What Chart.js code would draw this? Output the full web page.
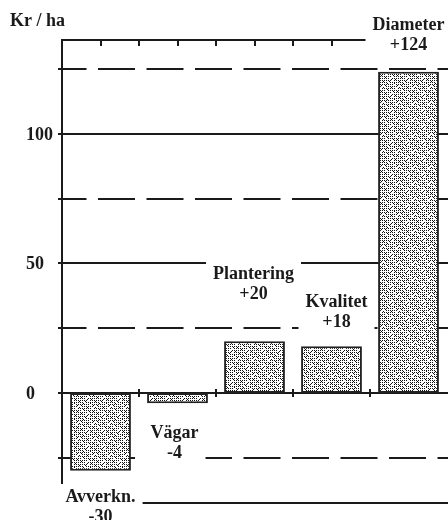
<!DOCTYPE html>
<html><head><meta charset="utf-8">
<style>html,body{margin:0;padding:0;background:#fff;}#wrap{width:448px;height:520px;}</style>
<script src="https://cdn.jsdelivr.net/npm/chart.js@4"></script>
</head><body><div id="wrap"><canvas id="c" width="448" height="520"></canvas></div>
<script>
const categories = ["Avverkn.", "Vägar", "Plantering", "Kvalitet", "Diameter"];
const values = [-30, -4, 20, 18, 124];
const valueLabels = ["-30", "-4", "+20", "+18", "+124"];
const yTickValues = [100, 50, 0];
const yTickLabels = ["100", "50", "0"];
const solidGridValues = [100, 50];
const dashedGridValues = [125, 75, 25, -25];
const axisTickValues = [125, 100, 75, 50, 25, 0, -25];
const axisTitle = "Kr / ha";
const yMin = -42.5, yMax = 136.3;

// style: label baseline offset from bar end (px) and horizontal nudge (px)
const labelDy = [31, 35, -62, -39, -42];
const labelDx = [0, -3, -1, 5, 0];

const FONT = "bold 18px 'Liberation Serif', 'Times New Roman', serif";
const INK = '#1a1a1a';

function makeStipple(ctx){
  const rows = [
    "1010101000101010",
    "0000010000000001",
    "1010001010101010",
    "0001000000100000",
    "1010101010001010",
    "0100000000000100",
    "0010101010101000",
    "0000000100000001",
    "1010101010100010",
    "0001000000000000",
    "1000101010101010",
    "0000000001000100",
    "1010101000101010",
    "0100000000000000",
    "1010100010101010",
    "0000000100010000"
  ];
  const c = document.createElement('canvas'); c.width = 16; c.height = 16;
  const g = c.getContext('2d');
  g.fillStyle = '#fff'; g.fillRect(0,0,16,16); g.fillStyle = '#111';
  rows.forEach((r,y)=>{[...r].forEach((ch,x)=>{ if(ch==='1') g.fillRect(x,y,1,1); });});
  return ctx.createPattern(c,'repeat');
}

const canvas = document.getElementById('c');
const ctx0 = canvas.getContext('2d');
const stipple = makeStipple(ctx0);

const framePlugin = {
  id: 'frame',
  beforeDatasetsDraw(chart){
    const {ctx, chartArea:a, scales:{x, y}} = chart;
    ctx.save();
    ctx.strokeStyle = INK; ctx.lineWidth = 2;
    const L = a.left, R = chart.width;
    solidGridValues.forEach(v=>{
      const py = Math.round(y.getPixelForValue(v));
      ctx.beginPath(); ctx.moveTo(L, py); ctx.lineTo(R, py); ctx.stroke();
    });
    ctx.setLineDash([37, 11.5]);
    ctx.lineDashOffset = 12.5;
    dashedGridValues.forEach(v=>{
      const py = Math.round(y.getPixelForValue(v));
      ctx.beginPath(); ctx.moveTo(L, py); ctx.lineTo(R, py); ctx.stroke();
    });
    ctx.setLineDash([]);
    const y0 = Math.round(y.getPixelForValue(0));
    ctx.beginPath(); ctx.moveTo(L, y0); ctx.lineTo(R, y0); ctx.stroke();
    ctx.beginPath(); ctx.moveTo(L, a.top); ctx.lineTo(R, a.top); ctx.stroke();
    ctx.beginPath(); ctx.moveTo(L, a.bottom); ctx.lineTo(R, a.bottom); ctx.stroke();
    ctx.beginPath(); ctx.moveTo(L, a.top - 1); ctx.lineTo(L, a.bottom); ctx.stroke();
    axisTickValues.forEach(v=>{
      const py = Math.round(y.getPixelForValue(v));
      ctx.beginPath(); ctx.moveTo(L - 4, py); ctx.lineTo(L, py); ctx.stroke();
    });
    const n = categories.length;
    const half = (x.getPixelForValue(1) - x.getPixelForValue(0)) / 2;
    for (let i = 0; i < n; i++) {
      const cx = x.getPixelForValue(i);
      [cx, cx + half].forEach(px=>{
        if (px >= a.right - 1) return;
        ctx.beginPath(); ctx.moveTo(Math.round(px), a.top); ctx.lineTo(Math.round(px), a.top + 6); ctx.stroke();
      });
      if (i < n - 1) {
        const bx = Math.round(cx + half);
        ctx.beginPath(); ctx.moveTo(bx, y0 - 4); ctx.lineTo(bx, y0 + 4); ctx.stroke();
      }
    }
    ctx.restore();
  },
  afterDatasetsDraw(chart){
    const {ctx, scales:{y}} = chart;
    const meta = chart.getDatasetMeta(0);
    ctx.save();
    ctx.font = FONT;
    ctx.textAlign = 'center';
    ctx.textBaseline = 'alphabetic';
    meta.data.forEach((bar, i)=>{
      const cx = bar.x + labelDx[i];
      const b1 = Math.round(bar.y + labelDy[i]);
      const b2 = b1 + 20;
      const w = Math.max(ctx.measureText(categories[i]).width, ctx.measureText(valueLabels[i]).width);
      const pad = 7;
      ctx.fillStyle = '#fff';
      ctx.fillRect(cx - w/2 - pad, b1 - 18, w + 2*pad, 43);
      ctx.fillStyle = INK;
      ctx.fillText(categories[i], cx, b1);
      ctx.fillText(valueLabels[i], cx, b2);
    });
    ctx.textAlign = 'left';
    yTickValues.forEach((v, i)=>{
      const py = y.getPixelForValue(v);
      ctx.fillText(yTickLabels[i], 26, Math.round(py + 6));
    });
    ctx.fillText(axisTitle, 10, 26);
    ctx.restore();
  }
};

new Chart(canvas, {
  type: 'bar',
  data: {
    labels: categories,
    datasets: [{
      data: values,
      backgroundColor: stipple,
      borderColor: '#222',
      borderWidth: 2,
      borderSkipped: false,
      barPercentage: 0.79,
      categoryPercentage: 1.0
    }]
  },
  options: {
    responsive: false,
    devicePixelRatio: 1,
    animation: false,
    layout: { padding: { left: 62, right: 1, top: 40, bottom: 17 } },
    plugins: { legend: { display: false }, tooltip: { enabled: false } },
    scales: {
      x: { display: false },
      y: { display: false, min: yMin, max: yMax }
    }
  },
  plugins: [framePlugin]
});
</script>
</body></html>
